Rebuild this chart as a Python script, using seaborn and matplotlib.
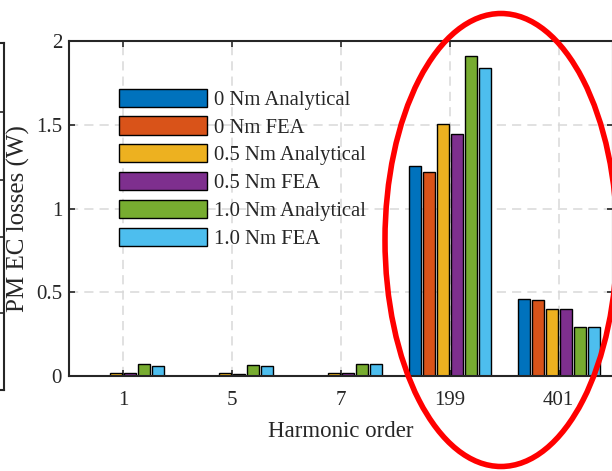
import matplotlib
matplotlib.use("Agg")
import matplotlib.pyplot as plt
from matplotlib.patches import Ellipse
import numpy as np
import pandas as pd
import seaborn as sns

# Harmonic orders on the x axis
harmonics = ["1", "5", "7", "199", "401"]

# PM eddy-current losses (W) per harmonic, for each load case / method
case_names = ["0 Nm Analytical", "0 Nm FEA", "0.5 Nm Analytical",
              "0.5 Nm FEA", "1.0 Nm Analytical", "1.0 Nm FEA"]
loss_0nm_analytical = [0.003, 0.002, 0.002, 1.257, 0.461]
loss_0nm_fea = [0.003, 0.002, 0.002, 1.218, 0.457]
loss_05nm_analytical = [0.021, 0.020, 0.020, 1.502, 0.402]
loss_05nm_fea = [0.018, 0.016, 0.018, 1.447, 0.400]
loss_10nm_analytical = [0.073, 0.067, 0.072, 1.912, 0.296]
loss_10nm_fea = [0.064, 0.063, 0.071, 1.841, 0.294]

y_ticks = [0, 0.5, 1, 1.5, 2]
y_tick_labels = ["0", "0.5", "1", "1.5", "2"]

colors = ["#0072BD", "#D95319", "#EDB120", "#7E2F8E", "#77AC30", "#4DBEEE"]
ink = "#262626"

series = [loss_0nm_analytical, loss_0nm_fea, loss_05nm_analytical,
          loss_05nm_fea, loss_10nm_analytical, loss_10nm_fea]
df = pd.DataFrame({
    "Harmonic": np.tile(harmonics, len(case_names)),
    "Case": np.repeat(case_names, len(harmonics)),
    "Loss": np.concatenate(series),
})

sns.set_style("white")
plt.rcParams["font.family"] = ["Liberation Serif", "DejaVu Serif"]
plt.rcParams["text.color"] = ink
plt.rcParams["axes.labelcolor"] = ink
plt.rcParams["xtick.color"] = ink
plt.rcParams["ytick.color"] = ink

W, H, DPI = 612, 471, 100
fig = plt.figure(figsize=(W / DPI, H / DPI), dpi=DPI)

# Main axes
ax = fig.add_axes([69 / W, (H - 376.3) / H, 544 / W, 335.3 / H])

sns.barplot(data=df, x="Harmonic", y="Loss", hue="Case", order=harmonics,
            hue_order=case_names, palette=colors, saturation=1,
            width=0.773, gap=0.15, edgecolor="black", linewidth=1.0,
            ax=ax, zorder=3)

ax.set_xlim(-0.5, 4.5)
ax.set_ylim(0, 2)
ax.set_yticks(y_ticks)
ax.set_yticklabels(y_tick_labels)

ax.grid(True, color="#d8d8d8", linestyle=(0, (6, 4)), linewidth=1.1, zorder=0)
ax.set_axisbelow(True)

for side in ["left", "top", "right", "bottom"]:
    ax.spines[side].set_visible(True)
    ax.spines[side].set_color(ink)
    ax.spines[side].set_linewidth(1.5)
    ax.spines[side].set_zorder(5)

ax.tick_params(axis="both", which="major", direction="in", length=4,
               width=1.2, labelsize=15, top=True, right=True,
               bottom=True, left=True)
ax.tick_params(axis="x", pad=10.5)
ax.tick_params(axis="y", pad=5)

ax.set_xlabel("Harmonic order", fontsize=16.5, labelpad=8)
ax.set_ylabel("PM EC losses (W)", fontsize=18, labelpad=6)
ax.yaxis.set_label_coords(-0.072, 0.47)

handles, labels = ax.get_legend_handles_labels()
ax.legend(handles, labels, loc="upper left", bbox_to_anchor=(0.092, 0.858),
          frameon=False, fontsize=14.9, handlelength=4.25, handleheight=0.97,
          handletextpad=0.34, labelspacing=0.32, borderpad=0,
          borderaxespad=0)

# Edge of the neighbouring panel on the left
axl = fig.add_axes([-0.3, (H - 390) / H, 0.3 + 3.7 / W, 347 / H])
axl.set_xlim(0, 1)
axl.set_ylim(0, 1)
axl.set_xticks([])
axl.set_yticks([(390 - y) / 347 for y in (112, 180, 237, 313)])
axl.set_yticklabels([])
axl.tick_params(axis="y", direction="in", length=6, width=1.2, left=False,
                right=True, color=ink)
axl.patch.set_visible(False)
axl.spines["left"].set_visible(False)
for side in ["top", "right", "bottom"]:
    axl.spines[side].set_visible(True)
    axl.spines[side].set_color(ink)
    axl.spines[side].set_linewidth(1.5)

# Red ellipse highlighting the high-order harmonics
ell = Ellipse((501 / W, (H - 240) / H), 232 / W, 453 / H,
              transform=fig.transFigure, fill=False, edgecolor="#ff0000",
              linewidth=4.0, zorder=10, clip_on=False)
fig.patches.append(ell)

fig.savefig("out.png", dpi=DPI)
